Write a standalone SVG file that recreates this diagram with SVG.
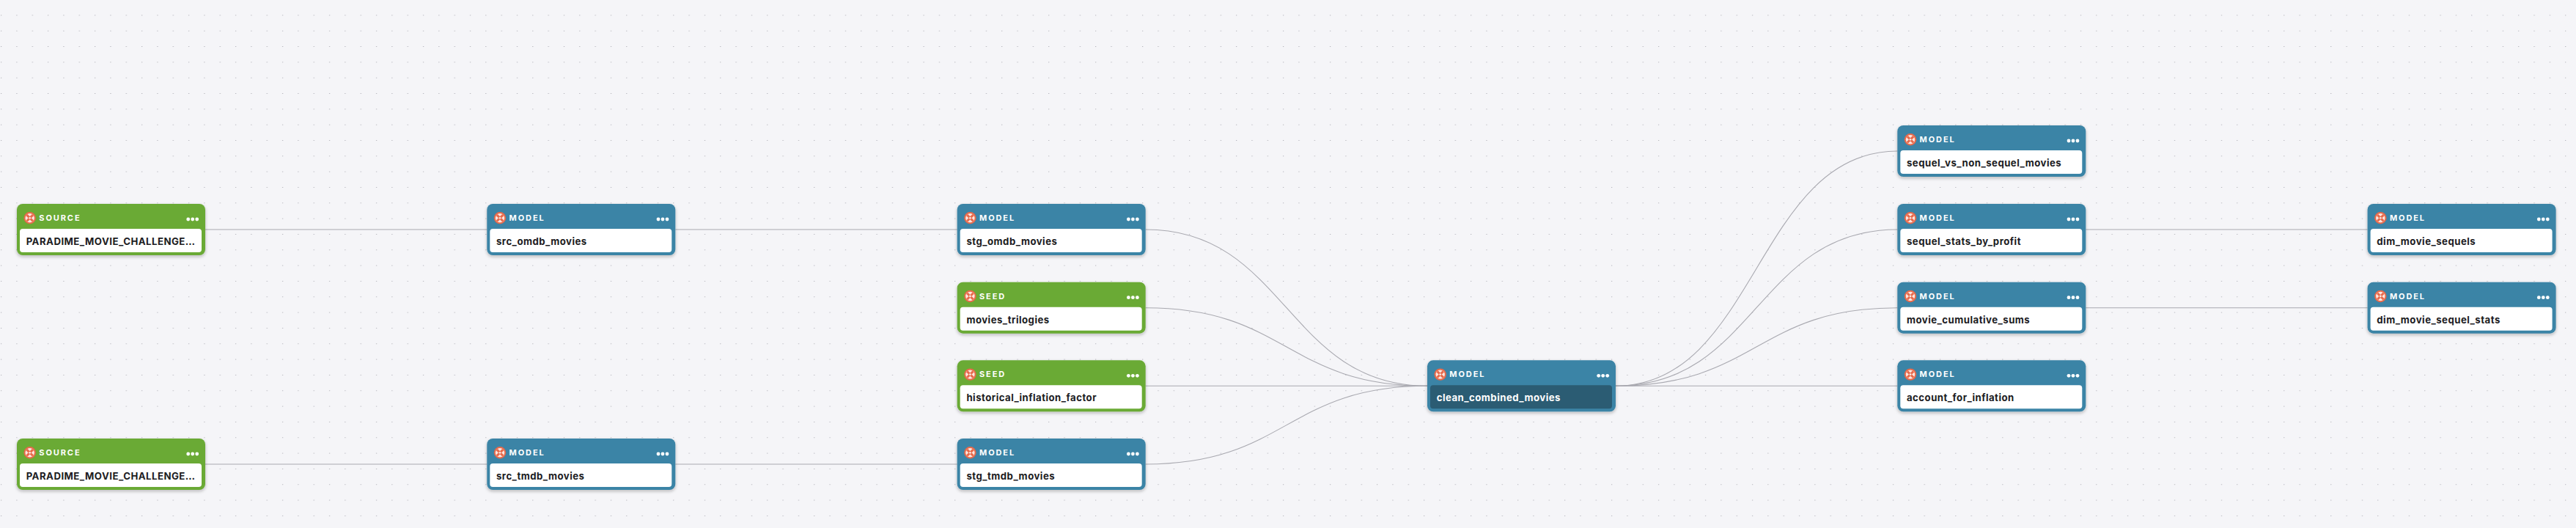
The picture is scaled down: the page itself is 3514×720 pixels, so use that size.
<svg xmlns="http://www.w3.org/2000/svg" xmlns:xlink="http://www.w3.org/1999/xlink" width="3514" height="720" viewBox="0 0 3514 720">
<style>
.bg{fill:#f5f5f8}
.card{filter:url(#sh)}
.blue{fill:#3b84a6}.green{fill:#6aaa36}
.body{fill:#fff}.selbody{fill:#2b5c73}
.kind{font:700 11px Inter,"Liberation Sans",sans-serif;letter-spacing:1.9px;fill:#fff}
.name{font:700 13.2px Inter,"Liberation Sans",sans-serif;letter-spacing:.48px;fill:#1c1c22}
.selname{fill:#fff}
.edge{fill:none;stroke:#a9a9b0;stroke-width:1.1}
</style>
<defs>
<pattern id="dots" width="21.33" height="21.33" patternUnits="userSpaceOnUse" x="0" y="0">
<rect x="1" y="20.6" width="1.2" height="1.2" fill="#9a9aa2"/>
</pattern>
<filter id="sh" x="-5%" y="-10%" width="110%" height="125%">
<feDropShadow dx="0" dy="2" stdDeviation="2" flood-color="#1c1c22" flood-opacity=".28"/>
</filter>
<g id="icon">
<circle r="8.2" fill="#e8694a"/>
<circle r="6.2" fill="#fbe6df"/>
<path d="M-4.2-4.2L4.2 4.2M4.2-4.2L-4.2 4.2" stroke="#e8694a" stroke-width="3"/>
<circle r="1.4" fill="#fbe6df"/>
</g>
<g id="more" fill="#fff"><circle cx="0" r="2.4"/><circle cx="6" r="2.4"/><circle cx="12" r="2.4"/></g>
</defs>
<rect class="bg" width="3514" height="720"/>
<rect fill="url(#dots)" width="3514" height="720"/>
<g id="connectors">
<path class="edge" d="M280 313H664.3"/>
<path class="edge" d="M921.3 313H1305.7"/>
<path class="edge" d="M280 633H664.3"/>
<path class="edge" d="M921.3 633H1305.7"/>
<path class="edge" d="M1562.7 313C1755 313 1755 526.3 1947 526.3"/>
<path class="edge" d="M1562.7 419.7C1755 419.7 1755 526.3 1947 526.3"/>
<path class="edge" d="M1562.7 526.3H1947"/>
<path class="edge" d="M1562.7 633C1755 633 1755 526.3 1947 526.3"/>
<path class="edge" d="M2204 526.3C2396 526.3 2396 206 2588.3 206"/>
<path class="edge" d="M2204 526.3C2396 526.3 2396 313 2588.3 313"/>
<path class="edge" d="M2204 526.3C2396 526.3 2396 419.7 2588.3 419.7"/>
<path class="edge" d="M2204 526.3H2588.3"/>
<path class="edge" d="M2845.3 313H3229.6"/>
<path class="edge" d="M2845.3 419.7H3229.6"/>
</g>
<g id="node-source-omdb" transform="translate(23 278)"><rect class="green card" width="257" height="70" rx="8"/><rect class="body" x="4" y="34" width="248" height="32" rx="4"/><use href="#icon" x="17.7" y="19.3"/><use href="#more" x="233.7" y="21"/><text class="kind" x="30.3" y="23">SOURCE</text><text class="name" x="12.7" y="56">PARADIME_MOVIE_CHALLENGE…</text></g>
<g id="node-source-tmdb" transform="translate(23 598)"><rect class="green card" width="257" height="70" rx="8"/><rect class="body" x="4" y="34" width="248" height="32" rx="4"/><use href="#icon" x="17.7" y="19.3"/><use href="#more" x="233.7" y="21"/><text class="kind" x="30.3" y="23">SOURCE</text><text class="name" x="12.7" y="56">PARADIME_MOVIE_CHALLENGE…</text></g>
<g id="node-src-omdb" transform="translate(664.3 278)"><rect class="blue card" width="257" height="70" rx="8"/><rect class="body" x="4" y="34" width="248" height="32" rx="4"/><use href="#icon" x="17.7" y="19.3"/><use href="#more" x="233.7" y="21"/><text class="kind" x="30.3" y="23">MODEL</text><text class="name" x="12.7" y="56">src_omdb_movies</text></g>
<g id="node-src-tmdb" transform="translate(664.3 598)"><rect class="blue card" width="257" height="70" rx="8"/><rect class="body" x="4" y="34" width="248" height="32" rx="4"/><use href="#icon" x="17.7" y="19.3"/><use href="#more" x="233.7" y="21"/><text class="kind" x="30.3" y="23">MODEL</text><text class="name" x="12.7" y="56">src_tmdb_movies</text></g>
<g id="node-stg-omdb" transform="translate(1305.7 278)"><rect class="blue card" width="257" height="70" rx="8"/><rect class="body" x="4" y="34" width="248" height="32" rx="4"/><use href="#icon" x="17.7" y="19.3"/><use href="#more" x="233.7" y="21"/><text class="kind" x="30.3" y="23">MODEL</text><text class="name" x="12.7" y="56">stg_omdb_movies</text></g>
<g id="node-movies-trilogies" transform="translate(1305.7 384.7)"><rect class="green card" width="257" height="70" rx="8"/><rect class="body" x="4" y="34" width="248" height="32" rx="4"/><use href="#icon" x="17.7" y="19.3"/><use href="#more" x="233.7" y="21"/><text class="kind" x="30.3" y="23">SEED</text><text class="name" x="12.7" y="56">movies_trilogies</text></g>
<g id="node-historical-inflation" transform="translate(1305.7 491.3)"><rect class="green card" width="257" height="70" rx="8"/><rect class="body" x="4" y="34" width="248" height="32" rx="4"/><use href="#icon" x="17.7" y="19.3"/><use href="#more" x="233.7" y="21"/><text class="kind" x="30.3" y="23">SEED</text><text class="name" x="12.7" y="56">historical_inflation_factor</text></g>
<g id="node-stg-tmdb" transform="translate(1305.7 598)"><rect class="blue card" width="257" height="70" rx="8"/><rect class="body" x="4" y="34" width="248" height="32" rx="4"/><use href="#icon" x="17.7" y="19.3"/><use href="#more" x="233.7" y="21"/><text class="kind" x="30.3" y="23">MODEL</text><text class="name" x="12.7" y="56">stg_tmdb_movies</text></g>
<g id="node-clean-combined" transform="translate(1947 491.3)"><rect class="blue card" width="257" height="70" rx="8"/><rect class="selbody" x="4" y="34" width="248" height="32" rx="4"/><use href="#icon" x="17.7" y="19.3"/><use href="#more" x="233.7" y="21"/><text class="kind" x="30.3" y="23">MODEL</text><text class="name selname" x="12.7" y="56">clean_combined_movies</text></g>
<g id="node-sequel-vs" transform="translate(2588.3 171)"><rect class="blue card" width="257" height="70" rx="8"/><rect class="body" x="4" y="34" width="248" height="32" rx="4"/><use href="#icon" x="17.7" y="19.3"/><use href="#more" x="233.7" y="21"/><text class="kind" x="30.3" y="23">MODEL</text><text class="name" x="12.7" y="56">sequel_vs_non_sequel_movies</text></g>
<g id="node-sequel-stats" transform="translate(2588.3 278)"><rect class="blue card" width="257" height="70" rx="8"/><rect class="body" x="4" y="34" width="248" height="32" rx="4"/><use href="#icon" x="17.7" y="19.3"/><use href="#more" x="233.7" y="21"/><text class="kind" x="30.3" y="23">MODEL</text><text class="name" x="12.7" y="56">sequel_stats_by_profit</text></g>
<g id="node-cumulative" transform="translate(2588.3 384.7)"><rect class="blue card" width="257" height="70" rx="8"/><rect class="body" x="4" y="34" width="248" height="32" rx="4"/><use href="#icon" x="17.7" y="19.3"/><use href="#more" x="233.7" y="21"/><text class="kind" x="30.3" y="23">MODEL</text><text class="name" x="12.7" y="56">movie_cumulative_sums</text></g>
<g id="node-account-inflation" transform="translate(2588.3 491.3)"><rect class="blue card" width="257" height="70" rx="8"/><rect class="body" x="4" y="34" width="248" height="32" rx="4"/><use href="#icon" x="17.7" y="19.3"/><use href="#more" x="233.7" y="21"/><text class="kind" x="30.3" y="23">MODEL</text><text class="name" x="12.7" y="56">account_for_inflation</text></g>
<g id="node-dim-sequels" transform="translate(3229.6 278)"><rect class="blue card" width="257" height="70" rx="8"/><rect class="body" x="4" y="34" width="248" height="32" rx="4"/><use href="#icon" x="17.7" y="19.3"/><use href="#more" x="233.7" y="21"/><text class="kind" x="30.3" y="23">MODEL</text><text class="name" x="12.7" y="56">dim_movie_sequels</text></g>
<g id="node-dim-sequel-stats" transform="translate(3229.6 384.7)"><rect class="blue card" width="257" height="70" rx="8"/><rect class="body" x="4" y="34" width="248" height="32" rx="4"/><use href="#icon" x="17.7" y="19.3"/><use href="#more" x="233.7" y="21"/><text class="kind" x="30.3" y="23">MODEL</text><text class="name" x="12.7" y="56">dim_movie_sequel_stats</text></g>
</svg>
